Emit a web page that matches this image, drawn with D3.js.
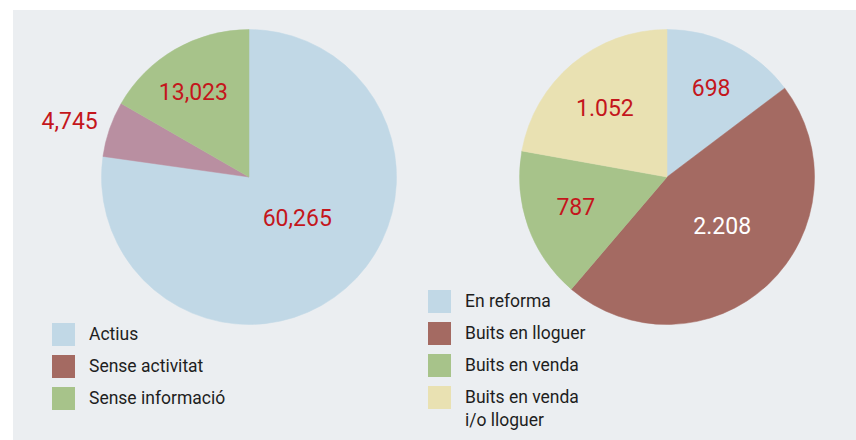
<!DOCTYPE html>
<html>
<head>
<meta charset="utf-8">
<script src="https://cdn.jsdelivr.net/npm/d3@7"></script>
<style>
  html, body { margin: 0; padding: 0; background: #fff; }
  svg { display: block; }
</style>
</head>
<body>
<svg id="chart" width="856" height="440"></svg>
<script>
// left pie: premises by activity
const leftCategories = ["Actius", "Sense activitat", "Sense informació"];
const leftValues = [60265, 4745, 13023];

// right pie: premises without activity
const rightCategories = ["En reforma", "Buits en lloguer", "Buits en venda", "Buits en venda\ni/o lloguer"];
const rightValues = [698, 2208, 787, 1052];

const leftPieColors = ["#c1d8e6", "#b98fa1", "#a7c38a"];
const leftLegendColors = ["#c1d8e6", "#a46a62", "#a7c38a"];
const rightColors = ["#c1d8e6", "#a46a62", "#a7c38a", "#e9e1b2"];
const rightLabelColors = ["#c4161c", "#ffffff", "#c4161c", "#c4161c"];

// label placement: [distance from centre, angle offset in degrees]
const leftLabelPos = [[63, -9], [188, -1.5], [102, -3]];
const rightLabelPos = [[99, 0], [74, -5], [96, 1.5], [93, -2]];

const width = 856, height = 440;
const radius = 147.5;
const labelRed = "#c4161c";

const fmtComma = d3.format(",");
const fmtDot = d3.formatLocale({decimal: ",", thousands: ".", grouping: [3], currency: ["", ""]}).format(",d");

const svg = d3.select("#chart");

svg.append("rect")
    .attr("x", 13)
    .attr("y", 10)
    .attr("width", width - 13)
    .attr("height", height - 10)
    .attr("fill", "#ebeef1");

const pie = d3.pie().sort(null).value(d => d);
const arc = d3.arc().innerRadius(0).outerRadius(radius);

function drawPie(values, colors, labelColors, labelPos, fmt, cx, cy) {
    const g = svg.append("g").attr("transform", `translate(${cx},${cy})`);
    const arcs = pie(values);

    g.selectAll("path")
        .data(arcs)
        .join("path")
        .attr("d", arc)
        .attr("fill", (d, i) => colors[i])
        .attr("stroke", (d, i) => colors[i])
        .attr("stroke-width", 0.5);

    g.selectAll("text")
        .data(arcs)
        .join("text")
        .attr("transform", (d, i) => {
            const a = (d.startAngle + d.endAngle) / 2 + labelPos[i][1] * Math.PI / 180;
            const r = labelPos[i][0];
            return `translate(${r * Math.sin(a)},${-r * Math.cos(a)})`;
        })
        .attr("text-anchor", "middle")
        .attr("dy", "0.35em")
        .attr("font-family", "Roboto, 'Liberation Sans', sans-serif")
        .attr("font-size", 23)
        .attr("fill", (d, i) => labelColors[i])
        .text(d => fmt(d.data));
}

drawPie(leftValues, leftPieColors, leftValues.map(() => labelRed), leftLabelPos, fmtComma, 249, 177);
drawPie(rightValues, rightColors, rightLabelColors, rightLabelPos, fmtDot, 667, 177);

function drawLegend(categories, colors, x, y) {
    const rowH = 32;
    const g = svg.append("g").attr("transform", `translate(${x},${y})`);
    const rows = g.selectAll("g")
        .data(categories)
        .join("g")
        .attr("transform", (d, i) => `translate(0,${i * rowH})`);

    rows.append("rect")
        .attr("width", 23)
        .attr("height", 23)
        .attr("fill", (d, i) => colors[i]);

    rows.append("text")
        .attr("x", 37)
        .attr("y", 17)
        .attr("font-family", "Roboto, 'Liberation Sans', sans-serif")
        .attr("font-size", 17.5)
        .attr("fill", "#1e1e1e")
        .selectAll("tspan")
        .data(d => d.split("\n"))
        .join("tspan")
        .attr("x", 37)
        .attr("dy", (d, i) => i === 0 ? 0 : 23)
        .text(d => d);
}

drawLegend(leftCategories, leftLegendColors, 52, 323);
drawLegend(rightCategories, rightColors, 428, 290);
</script>
</body>
</html>
